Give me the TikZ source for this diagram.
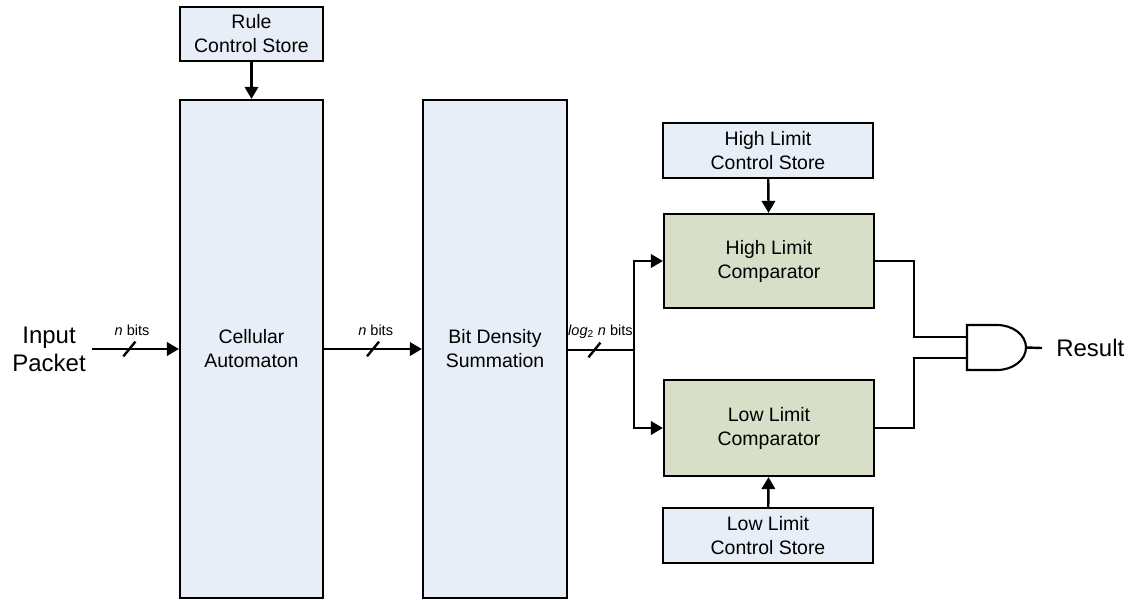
\documentclass[tikz,border=0pt]{standalone}
\usepackage{fontspec}
\setmainfont{Liberation Sans}
\usepackage{tikz}
\usetikzlibrary{arrows.meta,decorations.markings}
\definecolor{storeblue}{RGB}{232,238,247}
\definecolor{cmpgreen}{RGB}{216,223,200}

\begin{document}
\begin{tikzpicture}[x=0.75pt, y=-0.75pt,
    block/.style={draw, line width=1.6pt, fill=storeblue, align=center, inner sep=0pt,
        font=\fontsize{14.6}{18}\selectfont},
    cmp/.style={block, fill=cmpgreen},
    wire/.style={line width=1.8pt},
    arr/.style={wire, -{Triangle[length=9pt,width=10pt]}},
    bus/.style n args={3}{
        decoration={
            markings,
            mark=at position #1 with {\draw[-, line width=1.8pt] (-4.5pt,-5.5pt) -- (4.5pt,5.5pt);
                \node[font=\fontsize{10.9}{13}\selectfont] at (#2,14pt) {#3};}
        },
        postaction={decorate}
    }
]
\useasboundingbox (0,0) rectangle (1133,600);

\node[block, minimum width=107.25pt, minimum height=40.5pt] (rcs) at (251.5,34) {Rule\\Control Store};
\node[block, minimum width=107.25pt, minimum height=373.5pt] (ca) at (251.5,349) {Cellular\\Automaton};
\node[block, minimum width=108pt, minimum height=373.5pt] (bd) at (495,349) {Bit Density\\Summation};
\node[block, minimum width=157.5pt, minimum height=41.25pt] (hcs) at (768,150.5) {High Limit\\Control Store};
\node[cmp, minimum width=157.5pt, minimum height=70.5pt] (hc) at (769,261) {High Limit\\Comparator};
\node[cmp, minimum width=157.5pt, minimum height=72pt] (lc) at (769,428) {Low Limit\\Comparator};
\node[block, minimum width=157.5pt, minimum height=41.25pt] (lcs) at (768,535.5) {Low Limit\\Control Store};

\node[anchor=east, align=center, inner sep=4.5pt, font=\fontsize{18}{21}\selectfont] (inp) at (92,349) {Input\\Packet};
\node[anchor=west, inner sep=10.5pt, font=\fontsize{18}{21}\selectfont] (res) at (1042,348) {Result};

\coordinate (split) at (634,350);
\coordinate (g1) at (967,337);
\coordinate (g2) at (967,358);
\coordinate (gout) at (1026,347.5);

\draw[arr] (rcs) -- (ca);
\draw[arr] (hcs) -- (hc);
\draw[arr] (lcs) -- (lc);

\draw[arr, bus={0.43}{2pt}{\textit{n} bits}] (inp.east) -- (ca.west);
\draw[arr, bus={0.5}{2pt}{\textit{n} bits}] (ca.east) -- (bd.west);
\draw[wire, bus={0.4}{4.5pt}{\textit{log}\textsubscript{2} \textit{n} bits}] (bd.east |- split) -- (split);
\draw[arr] (split) |- (hc.west);
\draw[arr] (split) |- (lc.west);

\draw[wire] (hc.east) -- ++(39,0) |- (g1);
\draw[wire] (lc.east) -- ++(39,0) |- (g2);

\draw[line width=1.6pt] (967,325) -- (997,325)
    arc[start angle=90, end angle=-90, x radius=21.75pt, y radius=16.875pt]
    -- (967,370) -- cycle;
\draw[wire] (gout) -- (res.west);
\end{tikzpicture}
\end{document}
